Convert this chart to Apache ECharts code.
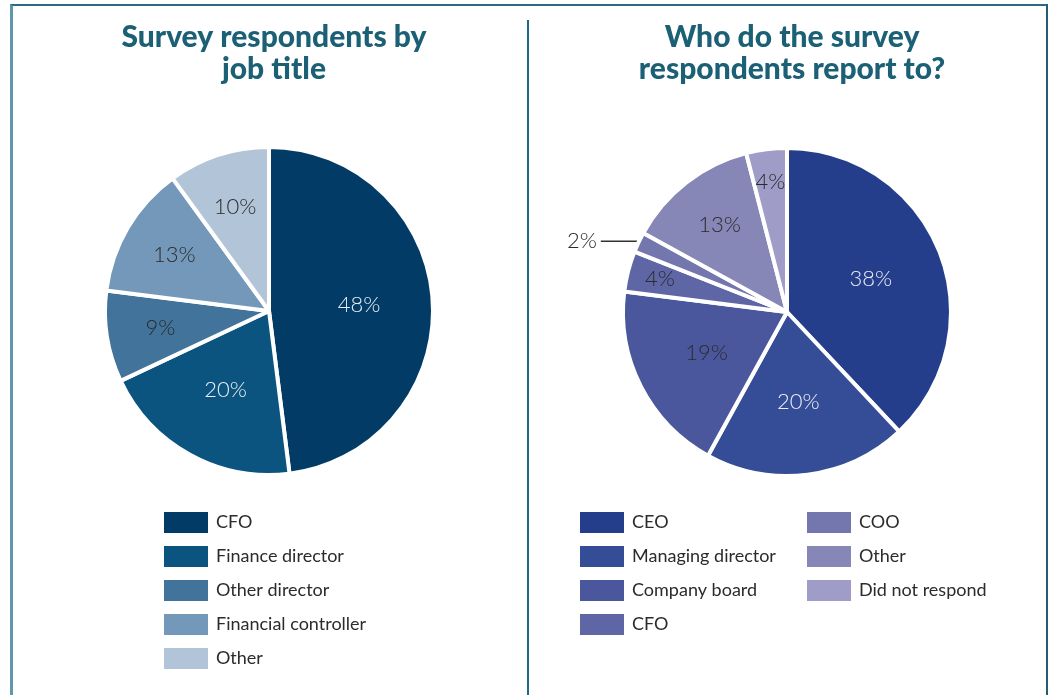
<!DOCTYPE html>
<html>
<head>
<meta charset="utf-8">
<script src="https://cdn.jsdelivr.net/npm/echarts@6/dist/echarts.min.js"></script>
<style>
  html, body { margin: 0; padding: 0; background: #fff; }
  #page { position: relative; width: 1051px; height: 695px; overflow: hidden; }
  #frame {
    position: absolute; left: 10px; top: 4px; width: 1033px; height: 720px;
    border-top: 2px solid #2b6a80; border-left: 3px solid #5f98aa; border-right: 2px solid #225d73;
  }
  #divider { position: absolute; left: 527px; top: 20px; width: 2px; height: 680px; background: #1b6a8a; }
  #left { position: absolute; left: 0; top: 0; width: 528px; height: 695px; }
  #right { position: absolute; left: 529px; top: 0; width: 522px; height: 695px; }
</style>
</head>
<body>
<div id="page">
  <div id="frame"></div>
  <div id="divider"></div>
  <div id="left"></div>
  <div id="right"></div>
</div>
<script>
// left chart: job title
const jobTitles = ["CFO", "Finance director", "Other director", "Financial controller", "Other"];
const jobShares = [48, 20, 9, 13, 10];
const jobColors = ["#023c66", "#0b547f", "#41739b", "#7498ba", "#b2c4d8"];
const jobLabelColors = ["#e9eef4", "#e9eef4", "#2b2b2b", "#2b2b2b", "#2b2b2b"];

// right chart: who they report to
const reportTo = ["CEO", "Managing director", "Company board", "CFO", "COO", "Other", "Did not respond"];
const reportShares = [38, 20, 19, 4, 2, 13, 4];
const reportColors = ["#253e8c", "#354d97", "#4a579d", "#5e66a6", "#7477ae", "#8686b7", "#9f9cc8"];
const reportLabelColors = ["#e9eef4", "#e9eef4", "#2b2b2b", "#2b2b2b", "#2b2b2b", "#2b2b2b", "#2b2b2b"];

const titleColor = "#1b6075";
const R = 164;

// push inside labels outward for the smaller slices
const labelRatio = (p) => (p >= 19 ? 0.55 : p >= 9 ? 0.67 : 0.8);

function makeLayout(cx, cy, shares, skip) {
  return function (params) {
    if (skip.indexOf(params.dataIndex) >= 0) return {};
    const r = params.labelRect;
    const lx = r.x + r.width / 2;
    const ly = r.y + r.height / 2;
    const dx = lx - cx;
    const dy = ly - cy;
    const d = Math.hypot(dx, dy) || 1;
    const nd = labelRatio(shares[params.dataIndex]) * R;
    return { dx: dx / d * (nd - d), dy: dy / d * (nd - d) };
  };
}

function buildOption(opts) {
  const data = opts.names.map((n, i) => {
    const item = {
      name: n,
      value: opts.values[i],
      itemStyle: { color: opts.colors[i] },
      label: { color: opts.labelColors[i] }
    };
    if (opts.outside.indexOf(i) >= 0) {
      item.label = { position: "outside", color: "#2b2b2b", distanceToLabelLine: 4 };
      item.labelLine = { show: true, length: 2, length2: 36, lineStyle: { color: "#333", width: 1.5 } };
    }
    return item;
  });
  const legends = opts.legendCols.map((col) => ({
    orient: "vertical",
    left: col.left,
    top: 505,
    itemWidth: 46,
    itemHeight: 23,
    itemGap: 9,
    icon: "rect",
    selectedMode: false,
    data: col.names,
    textStyle: { fontFamily: "Lato", fontSize: 18, color: "#2b2b2b", padding: [0, 0, 0, 2] }
  }));
  return {
    animation: false,
    title: {
      text: opts.title,
      left: opts.cx,
      top: 16,
      textAlign: "center",
      textStyle: { fontFamily: "Lato", fontWeight: 900, fontSize: 30, lineHeight: 32, color: titleColor }
    },
    legend: legends,
    series: [{
      type: "pie",
      center: [opts.cx, opts.cy],
      radius: R,
      startAngle: 90,
      clockwise: true,
      itemStyle: { borderColor: "#fff", borderWidth: 4 },
      label: {
        show: true,
        position: "inside",
        formatter: "{c}%",
        fontFamily: "Lato",
        fontWeight: 300,
        fontSize: 22
      },
      labelLine: { show: false },
      labelLayout: makeLayout(opts.cx, opts.cy, opts.values, opts.outside),
      emphasis: { disabled: true },
      data: data
    }]
  };
}

const leftChart = echarts.init(document.getElementById("left"));
leftChart.setOption(buildOption({
  title: "Survey respondents by\njob title",
  cx: 269, cy: 311,
  names: jobTitles, values: jobShares, colors: jobColors, labelColors: jobLabelColors,
  outside: [],
  legendCols: [{ left: 157, names: jobTitles }]
}));

const rightChart = echarts.init(document.getElementById("right"));
rightChart.setOption(buildOption({
  title: "Who do the survey\nrespondents report to?",
  cx: 258, cy: 312,
  names: reportTo, values: reportShares, colors: reportColors, labelColors: reportLabelColors,
  outside: [4],
  legendCols: [
    { left: 44, names: reportTo.slice(0, 4) },
    { left: 271, names: reportTo.slice(4) }
  ]
}));
</script>
</body>
</html>
